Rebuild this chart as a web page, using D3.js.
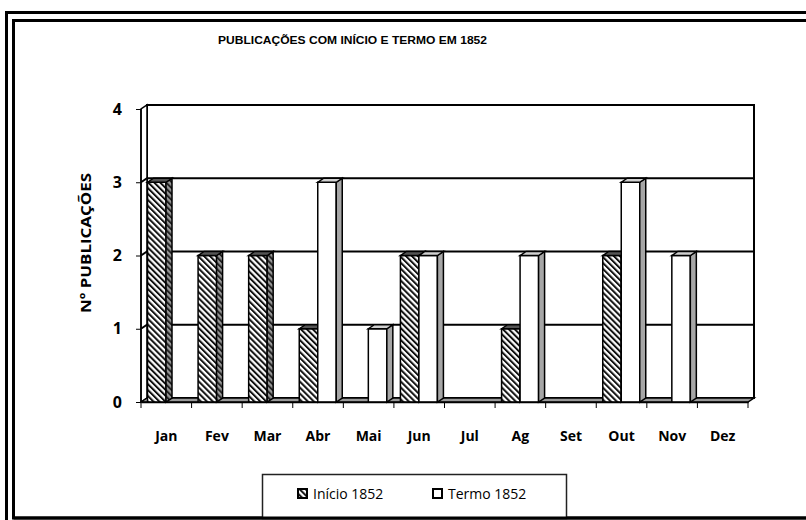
<!DOCTYPE html>
<html>
<head>
<meta charset="utf-8">
<title>Publicações com início e termo em 1852</title>
<style>
  body { margin: 0; background: #fff; }
  svg { display: block; }
  .tick text { font-family: "Open Sans", "DejaVu Sans", sans-serif; font-weight: 700; }
  .ytit { font-family: "Open Sans", "DejaVu Sans", sans-serif; font-weight: 700; font-size: 15px; }
  .leg { font-family: "Open Sans", "DejaVu Sans", sans-serif; font-size: 14px; }
  .title { font-family: "Liberation Sans Narrow", "Arial Narrow", "Liberation Sans", sans-serif; font-size: 10px; font-weight: bold; }
</style>
<script src="https://d3js.org/d3.v7.min.js"></script>
</head>
<body>
<svg id="chart" width="806" height="520"></svg>
<script>
// dados
var meses = ["Jan","Fev","Mar","Abr","Mai","Jun","Jul","Ag","Set","Out","Nov","Dez"];
var inicio = [3,2,2,1,0,2,0,1,0,2,0,0];
var termo  = [0,0,0,3,1,2,0,2,0,3,2,0];
var yTicks = [0,1,2,3,4];
var tituloTxt = "PUBLICAÇÕES  COM INÍCIO E TERMO  EM 1852";
var legendas = ["Início 1852", "Termo 1852"];

var svg = d3.select("#chart");
var dx = 6, dy = 4;   // profundidade 3D

// padrões de tracejado
var defs = svg.append("defs");
function hatch(id, bg, fg) {
  var p = defs.append("pattern").attr("id", id)
    .attr("patternUnits", "userSpaceOnUse")
    .attr("width", 4.2).attr("height", 4.2)
    .attr("patternTransform", "rotate(-45)");
  p.append("rect").attr("width", 4.2).attr("height", 4.2).attr("fill", bg);
  p.append("rect").attr("width", 2).attr("height", 4.2).attr("fill", fg);
}
hatch("hFront", "#fff", "#111");
hatch("hSide", "#9a9a9a", "#222");

// moldura dupla
svg.append("rect").attr("x", 6.5).attr("y", 12.5).attr("width", 840).attr("height", 560)
  .attr("fill", "none").attr("stroke", "#000").attr("stroke-width", 3);
svg.append("rect").attr("x", 13.5).attr("y", 20.5).attr("width", 840).attr("height", 497.5)
  .attr("fill", "none").attr("stroke", "#000").attr("stroke-width", 3);

// título
svg.append("text").attr("class", "title")
  .attr("x", 218).attr("y", 44)
  .attr("textLength", 269).attr("lengthAdjust", "spacingAndGlyphs")
  .text(tituloTxt);

// escalas
var x0 = d3.scaleBand().domain(meses).range([141, 748]);
var x1 = d3.scaleBand().domain(["inicio", "termo"]).range([6.5, 43.5]);
var y = d3.scaleLinear().domain([0, 4]).range([402, 109]);

// parede de fundo
var bx0 = 141 + dx, bx1 = 748 + dx;
svg.append("rect").attr("x", bx0).attr("y", y(4) - dy)
  .attr("width", bx1 - bx0).attr("height", y(0) - y(4))
  .attr("fill", "#fff").attr("stroke", "#000").attr("stroke-width", 2);

// parede lateral
svg.append("polygon")
  .attr("points", [[141, y(0)], [bx0, y(0) - dy], [bx0, y(4) - dy], [141, y(4)]].join(" "))
  .attr("fill", "#fff").attr("stroke", "#000").attr("stroke-width", 1.5);

// linhas de grade
svg.append("g").selectAll("polyline").data(yTicks.slice(1, 4)).join("polyline")
  .attr("points", function(d) {
    return [[141, y(d)], [bx0, y(d) - dy], [bx1, y(d) - dy]].join(" ");
  })
  .attr("fill", "none").attr("stroke", "#000").attr("stroke-width", 2);

// chão
svg.append("polygon")
  .attr("points", [[141, y(0)], [bx0, y(0) - dy], [bx1, y(0) - dy], [748, y(0)]].join(" "))
  .attr("fill", "#999").attr("stroke", "#000").attr("stroke-width", 1.5);

// barras 3D
var dados = [];
meses.forEach(function(m, i) {
  dados.push({ mes: m, serie: "inicio", v: inicio[i] });
  dados.push({ mes: m, serie: "termo", v: termo[i] });
});
var estilo = {
  inicio: { front: "url(#hFront)", side: "url(#hSide)", top: "#555" },
  termo:  { front: "#fff", side: "#a6a6a6", top: "#d0d0d0" }
};
var w = x1.bandwidth();
var gb = svg.append("g").selectAll("g").data(dados.filter(function(d) { return d.v > 0; }))
  .join("g");
gb.append("rect")
  .attr("x", function(d) { return x0(d.mes) + x1(d.serie); })
  .attr("y", function(d) { return y(d.v); })
  .attr("width", w)
  .attr("height", function(d) { return y(0) - y(d.v); })
  .attr("fill", function(d) { return estilo[d.serie].front; })
  .attr("stroke", "#000").attr("stroke-width", 1.5);
gb.append("polygon")
  .attr("points", function(d) {
    var x = x0(d.mes) + x1(d.serie) + w, t = y(d.v), b = y(0);
    return [[x, t], [x + dx, t - dy], [x + dx, b - dy], [x, b]].join(" ");
  })
  .attr("fill", function(d) { return estilo[d.serie].side; })
  .attr("stroke", "#000").attr("stroke-width", 1.5);
gb.append("polygon")
  .attr("points", function(d) {
    var x = x0(d.mes) + x1(d.serie), t = y(d.v);
    return [[x, t], [x + dx, t - dy], [x + w + dx, t - dy], [x + w, t]].join(" ");
  })
  .attr("fill", function(d) { return estilo[d.serie].top; })
  .attr("stroke", "#000").attr("stroke-width", 1.5);

// eixo Y
var yAxis = svg.append("g").attr("transform", "translate(141,0)")
  .call(d3.axisLeft(y).tickValues(yTicks).tickFormat(d3.format("d")).tickSize(5).tickPadding(14));
yAxis.selectAll("text").attr("font-size", 16).attr("fill", "#000");
yAxis.selectAll("line").attr("stroke", "#000");
yAxis.select(".domain").attr("stroke", "#000").attr("stroke-width", 1.5)
  .attr("d", "M0," + y(4) + "V" + y(0));

// eixo X
var xAxis = svg.append("g").attr("transform", "translate(0," + y(0) + ")")
  .call(d3.axisBottom(x0).tickSize(0).tickPadding(29));
xAxis.select(".domain").attr("stroke", "#000").attr("stroke-width", 1.5);
xAxis.selectAll("text").attr("font-size", 14).attr("fill", "#000");
svg.append("g").selectAll("line").data(meses.concat(["fim"])).join("line")
  .attr("x1", function(d, i) { return x0.range()[0] + i * x0.bandwidth(); })
  .attr("x2", function(d, i) { return x0.range()[0] + i * x0.bandwidth(); })
  .attr("y1", y(0)).attr("y2", y(0) + 6)
  .attr("stroke", "#000").attr("stroke-width", 1);

// título do eixo Y
svg.append("text").attr("class", "ytit")
  .attr("transform", "translate(91,243) rotate(-90)")
  .attr("text-anchor", "middle")
  .attr("textLength", 140).attr("lengthAdjust", "spacingAndGlyphs")
  .text("Nº PUBLICAÇÕES");

// legenda
svg.append("rect").attr("x", 262.5).attr("y", 474.5).attr("width", 304).attr("height", 44)
  .attr("fill", "#fff").attr("stroke", "#222").attr("stroke-width", 1.5);
var lx = [298, 433];
var lg = svg.append("g").selectAll("g").data(legendas).join("g")
  .attr("transform", function(d, i) { return "translate(" + lx[i] + ",489)"; });
lg.append("rect").attr("width", 9).attr("height", 9)
  .attr("fill", function(d, i) { return i === 0 ? "url(#hFront)" : "#fff"; })
  .attr("stroke", "#000").attr("stroke-width", 2);
lg.append("text").attr("class", "leg").attr("x", 15).attr("y", 10)
  .attr("font-size", 15).text(function(d) { return d; });

// repõe a linha inferior da moldura por cima da legenda
svg.append("line").attr("x1", 13.5).attr("x2", 806).attr("y1", 518).attr("y2", 518)
  .attr("stroke", "#000").attr("stroke-width", 3);
</script>
</body>
</html>
